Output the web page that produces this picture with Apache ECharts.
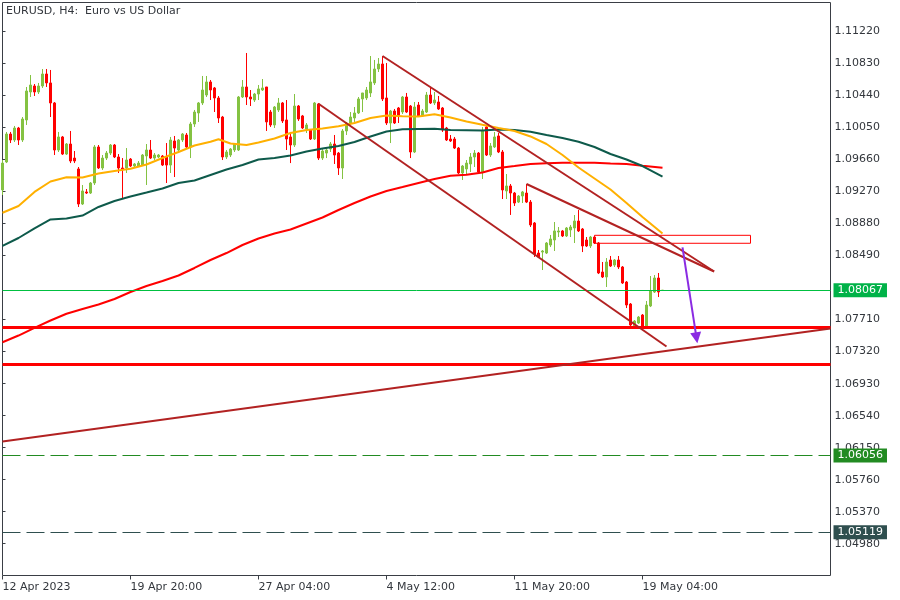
<!DOCTYPE html>
<html><head><meta charset="utf-8">
<script src="https://cdn.jsdelivr.net/npm/echarts@6/dist/echarts.min.js"></script>
<style>html,body{margin:0;padding:0;background:#fff}#chart{width:900px;height:600px}</style>
</head><body><div id="chart"></div>
<script>
const chartTitle = 'EURUSD, H4:  Euro vs US Dollar';
const xTickIndex = [0, 32, 64, 96, 128, 160];
const xTickLabels = ['12 Apr 2023', '19 Apr 20:00', '27 Apr 04:00', '4 May 12:00', '11 May 20:00', '19 May 04:00'];
const yTickValues = [1.11220, 1.10830, 1.10440, 1.10050, 1.09660, 1.09270, 1.08880, 1.08490, 1.07710, 1.07320, 1.06930, 1.06540, 1.06150, 1.05760, 1.05370, 1.04980];
const yMin = 1.045928, yMax = 1.11573, xMax = 207;

// H4 candles: [open, close, low, high]
const candles = [
[1.09289,1.09617,1.09228,1.09654],[1.09630,1.09971,1.09617,1.09996],[1.09971,1.09898,1.09861,1.09996],[1.09898,1.10044,1.09874,1.10069],
[1.10044,1.09898,1.09837,1.10057],[1.09898,1.10154,1.09874,1.10178],[1.10142,1.10495,1.10081,1.10544],[1.10483,1.10568,1.10422,1.10690],
[1.10556,1.10483,1.10434,1.10580],[1.10483,1.10556,1.10458,1.10593],[1.10556,1.10702,1.10532,1.10763],[1.10702,1.10593,1.10544,1.10763],
[1.10593,1.10349,1.10178,1.10751],[1.10349,1.09776,1.09715,1.10361],[1.09776,1.09935,1.09752,1.09996],[1.09935,1.09727,1.09715,1.09947],
[1.09727,1.09849,1.09715,1.09861],[1.09849,1.09642,1.09617,1.10008],[1.09678,1.09642,1.09617,1.09764],[1.09545,1.09118,1.09082,1.09569],
[1.09118,1.09277,1.09106,1.09350],[1.09265,1.09252,1.09240,1.09301],[1.09252,1.09374,1.09240,1.09386],[1.09374,1.09813,1.09350,1.09837],
[1.09813,1.09557,1.09545,1.09837],[1.09557,1.09678,1.09533,1.09715],[1.09678,1.09739,1.09654,1.09764],[1.09739,1.09837,1.09715,1.09849],
[1.09837,1.09691,1.09678,1.09849],[1.09691,1.09557,1.09496,1.09727],[1.09557,1.09545,1.09191,1.09678],[1.09557,1.09654,1.09496,1.09800],
[1.09666,1.09581,1.09569,1.09678],[1.09581,1.09606,1.09569,1.09617],[1.09581,1.09617,1.09569,1.09642],[1.09593,1.09715,1.09581,1.09727],
[1.09703,1.09776,1.09350,1.09849],[1.09776,1.09678,1.09666,1.09898],[1.09678,1.09715,1.09654,1.09739],[1.09691,1.09715,1.09678,1.09727],
[1.09703,1.09593,1.09581,1.09715],[1.09691,1.09593,1.09374,1.09861],[1.09593,1.09898,1.09496,1.09935],[1.09886,1.09800,1.09447,1.09947],
[1.09776,1.09898,1.09752,1.09910],[1.09898,1.09971,1.09874,1.09983],[1.09959,1.09813,1.09800,1.09983],[1.09813,1.10093,1.09678,1.10118],
[1.10093,1.10239,1.10057,1.10264],[1.10227,1.10349,1.10118,1.10361],[1.10349,1.10507,1.10324,1.10678],[1.10446,1.10605,1.10422,1.10678],
[1.10605,1.10507,1.10385,1.10629],[1.10532,1.10410,1.10239,1.10544],[1.10410,1.10166,1.10105,1.10434],[1.10178,1.09691,1.09654,1.10191],
[1.09691,1.09752,1.09666,1.09776],[1.09715,1.09788,1.09691,1.09800],[1.09776,1.09849,1.09752,1.09861],[1.09776,1.10422,1.09764,1.10434],
[1.10422,1.10544,1.10410,1.10629],[1.10544,1.10422,1.10324,1.10958],[1.10422,1.10398,1.10312,1.10507],[1.10385,1.10458,1.10361,1.10471],
[1.10458,1.10520,1.10385,1.10568],[1.10507,1.10532,1.10495,1.10641],[1.10544,1.10118,1.10008,1.10544],[1.10239,1.10081,1.10057,1.10264],
[1.10081,1.10300,1.10044,1.10312],[1.10264,1.10349,1.10239,1.10410],[1.10349,1.10130,1.10105,1.10361],[1.10142,1.09910,1.09776,1.10385],
[1.09935,1.09837,1.09617,1.09996],[1.09837,1.10312,1.09813,1.10458],[1.10312,1.10154,1.10130,1.10324],[1.10191,1.10044,1.10032,1.10203],
[1.10032,1.10081,1.09983,1.10105],[1.10020,1.09910,1.09898,1.10032],[1.09910,1.10349,1.09898,1.10361],[1.10337,1.09678,1.09654,1.10349],
[1.09678,1.09764,1.09654,1.09788],[1.09739,1.09776,1.09678,1.09800],[1.09788,1.09849,1.09752,1.09874],[1.09849,1.09715,1.09606,1.09959],
[1.09739,1.09557,1.09472,1.09752],[1.09557,1.10008,1.09423,1.10032],[1.10008,1.10105,1.09959,1.10118],[1.10105,1.10178,1.10081,1.10239],
[1.10166,1.10227,1.10118,1.10300],[1.10227,1.10398,1.10215,1.10422],[1.10398,1.10471,1.10239,1.10471],[1.10410,1.10507,1.10385,1.10544],
[1.10471,1.10605,1.10422,1.10921],[1.10593,1.10763,1.10568,1.10873],[1.10763,1.10824,1.10726,1.10897],[1.10824,1.10398,1.10373,1.10921],
[1.10410,1.10105,1.10081,1.10836],[1.10105,1.10251,1.09861,1.10264],[1.10251,1.10105,1.10093,1.10276],[1.10288,1.10191,1.10105,1.10300],
[1.10239,1.10422,1.10215,1.10434],[1.10422,1.10239,1.10227,1.10471],[1.10312,1.09752,1.09678,1.10324],[1.09752,1.10300,1.09739,1.10361],
[1.10324,1.10191,1.10178,1.10361],[1.10191,1.10251,1.10178,1.10276],[1.10239,1.10446,1.10227,1.10483],[1.10446,1.10349,1.10337,1.10532],
[1.10349,1.10385,1.10324,1.10483],[1.10361,1.10276,1.10264,1.10434],[1.10288,1.10020,1.09996,1.10300],[1.10044,1.09898,1.09886,1.10057],
[1.09910,1.09886,1.09874,1.09959],[1.09910,1.09800,1.09788,1.09935],[1.09800,1.09496,1.09484,1.09813],[1.09496,1.09581,1.09411,1.09593],
[1.09545,1.09617,1.09472,1.09654],[1.09606,1.09691,1.09508,1.09739],[1.09691,1.09739,1.09569,1.09776],[1.09739,1.09508,1.09496,1.09752],
[1.09508,1.10008,1.09423,1.10057],[1.10057,1.09715,1.09703,1.10069],[1.09715,1.09825,1.09691,1.09861],[1.09813,1.09935,1.09800,1.09996],
[1.09947,1.09752,1.09739,1.09983],[1.09752,1.09289,1.09179,1.09776],[1.09277,1.09338,1.09179,1.09484],[1.09338,1.09252,1.08985,1.09362],
[1.09252,1.09130,1.09094,1.09265],[1.09142,1.09216,1.09130,1.09228],[1.09216,1.09265,1.09130,1.09277],[1.09252,1.09142,1.09130,1.09362],
[1.09142,1.08863,1.08838,1.09167],[1.08887,1.08509,1.08473,1.08899],[1.08521,1.08473,1.08460,1.08558],[1.08533,1.08546,1.08314,1.08558],
[1.08521,1.08643,1.08509,1.08655],[1.08619,1.08692,1.08594,1.08741],[1.08680,1.08790,1.08546,1.08899],[1.08777,1.08790,1.08716,1.08838],
[1.08790,1.08729,1.08716,1.08802],[1.08729,1.08826,1.08716,1.08838],[1.08802,1.08838,1.08716,1.08863],[1.08826,1.08911,1.08643,1.08984],
[1.08911,1.08790,1.08777,1.09045],[1.08814,1.08607,1.08533,1.08826],[1.08680,1.08607,1.08594,1.08716],[1.08607,1.08716,1.08582,1.08729],
[1.08716,1.08643,1.08631,1.08729],[1.08643,1.08278,1.08265,1.08655],[1.08290,1.08229,1.08217,1.08412],[1.08229,1.08412,1.08107,1.08460],
[1.08436,1.08363,1.08351,1.08485],[1.08375,1.08436,1.08351,1.08448],[1.08436,1.08351,1.08326,1.08485],[1.08351,1.08156,1.08144,1.08363],
[1.08168,1.07888,1.07851,1.08180],[1.07900,1.07644,1.07620,1.07912],[1.07632,1.07693,1.07620,1.07705],[1.07668,1.07741,1.07656,1.07754],
[1.07766,1.07632,1.07620,1.07778],[1.07620,1.07888,1.07607,1.07937],[1.07876,1.08059,1.07863,1.08241],[1.08046,1.08217,1.08034,1.08253],
[1.08217,1.08046,1.07985,1.08278],[1.08067,1.08067,1.08062,1.08070]
];

// moving averages: [bar index, value]
const maFast = [[0,1.09012],[4,1.09094],[8,1.09265],[12,1.09392],[16,1.09444],[20,1.09441],[24,1.09490],[28,1.09520],[32,1.09548],[36,1.09600],[40,1.09679],[44,1.09752],[48,1.09831],[52,1.09876],[54,1.09907],[57,1.09855],[61,1.09837],[64,1.09868],[68,1.09916],[72,1.09983],[76,1.10020],[80,1.10038],[84,1.10065],[88,1.10105],[92,1.10166],[96,1.10196],[100,1.10188],[104,1.10184],[108,1.10212],[112,1.10172],[116,1.10123],[120,1.10083],[124,1.10044],[128,1.10008],[132,1.09941],[136,1.09849],[140,1.09715],[144,1.09563],[148,1.09429],[152,1.09295],[156,1.09131],[160,1.08960],[165,1.08759]];
const maMid = [[0,1.08607],[4,1.08704],[8,1.08822],[12,1.08930],[16,1.08942],[20,1.08978],[24,1.09082],[28,1.09155],[32,1.09210],[36,1.09258],[40,1.09307],[44,1.09374],[48,1.09405],[52,1.09472],[56,1.09539],[60,1.09593],[64,1.09660],[68,1.09679],[72,1.09709],[76,1.09758],[80,1.09794],[84,1.09825],[88,1.09874],[92,1.09941],[96,1.10002],[100,1.10028],[108,1.10036],[112,1.10020],[120,1.10014],[124,1.10026],[128,1.10020],[132,1.09998],[136,1.09959],[140,1.09922],[144,1.09876],[148,1.09813],[152,1.09727],[156,1.09660],[160,1.09581],[165,1.09451]];
const maSlow = [[0,1.07434],[4,1.07516],[8,1.07610],[12,1.07699],[16,1.07781],[20,1.07839],[24,1.07894],[28,1.07961],[32,1.08046],[36,1.08119],[40,1.08180],[44,1.08247],[48,1.08339],[52,1.08436],[56,1.08521],[60,1.08619],[64,1.08698],[68,1.08759],[72,1.08808],[76,1.08881],[80,1.08954],[84,1.09045],[88,1.09131],[92,1.09210],[96,1.09277],[100,1.09325],[104,1.09374],[108,1.09423],[112,1.09462],[116,1.09474],[120,1.09502],[124,1.09557],[128,1.09581],[132,1.09606],[136,1.09614],[140,1.09621],[148,1.09621],[152,1.09612],[156,1.09606],[160,1.09585],[165,1.09561]];

// drawn objects
const trendLines = [
  [[0, 1.06225], [207, 1.07602]],
  [[95, 1.10921], [177.9, 1.08296]],
  [[79, 1.10340], [166, 1.07382]],
  [[131, 1.09362], [177.9, 1.08296]]
];
const supplyZone = [[148, 1.08737], [187, 1.08640]];
const arrowPath = [[170, 1.08591], [173.5, 1.07488]];
const redLevels = [1.07616, 1.07167];
const bidLevel = 1.08067;
const dashedLevels = [1.06056, 1.05119];

const FONT = 'DejaVu Sans';
const TXT = '#33373d';
const UP = '#84C242', DOWN = '#FF0000';
const dashedColors = ['#228B22', '#2F4F4F'];

const chart = echarts.init(document.getElementById('chart'), null, {renderer: 'canvas'});

const priceLabel = (bg) => ({
  show: true, position: 'end', distance: 3, formatter: p => Number(p.value).toFixed(5),
  color: '#fff', backgroundColor: bg, padding: [1, 4, 1, 4], lineHeight: 12,
  fontSize: 11, fontFamily: FONT
});

const levelLines = [];
redLevels.forEach(v => levelLines.push({yAxis: v, lineStyle: {color: '#FF0000', width: 3, type: 'solid'}, label: {show: false}}));
levelLines.push({yAxis: bidLevel, lineStyle: {color: '#00C040', width: 1, type: 'solid'}, label: priceLabel('#00B248')});
dashedLevels.forEach((v, i) => levelLines.push({yAxis: v, lineStyle: {color: dashedColors[i], width: 1, type: [18, 6]}, label: priceLabel(dashedColors[i])}));

const option = {
  animation: false,
  backgroundColor: '#fff',
  title: {text: chartTitle, left: 6, top: 6, padding: 0,
    textStyle: {fontSize: 11, fontWeight: 'normal', color: TXT, fontFamily: FONT}},
  grid: {left: 2.5, top: 2.5, width: 828, height: 573, show: true, borderColor: '#3a3e45', borderWidth: 1,
    backgroundColor: 'transparent', containLabel: false, outerBoundsMode: 'none'},
  xAxis: {
    type: 'value', min: 0, max: xMax, splitLine: {show: false},
    axisLine: {show: false, onZero: false},
    axisTick: {show: true, customValues: xTickIndex, length: 4, lineStyle: {color: '#3a3e45'}},
    axisLabel: {customValues: xTickIndex, formatter: v => xTickLabels[xTickIndex.indexOf(v)],
      align: 'left', margin: 6, fontSize: 11, color: TXT, fontFamily: FONT}
  },
  yAxis: {
    type: 'value', position: 'right', min: yMin, max: yMax, splitLine: {show: false},
    axisLine: {show: false},
    axisTick: {show: true, customValues: yTickValues, length: 3, lineStyle: {color: '#3a3e45'}},
    axisLabel: {customValues: yTickValues, formatter: v => v.toFixed(5), margin: 4,
      fontSize: 11, color: TXT, fontFamily: FONT}
  },
  series: [
    {
      type: 'candlestick', z: 2, barWidth: 2, silent: true,
      data: candles.map((c, i) => [i, c[0], c[1], c[2], c[3]]),
      encode: {x: 0, y: [1, 2, 3, 4]},
      itemStyle: {color: UP, color0: DOWN, borderColor: UP, borderColor0: DOWN, borderColorDoji: UP, borderWidth: 1}
    },
    {type: 'line', z: 3, data: maSlow, showSymbol: false, symbol: 'none', silent: true, lineStyle: {color: '#FF0000', width: 2}},
    {type: 'line', z: 3, data: maMid, showSymbol: false, symbol: 'none', silent: true, lineStyle: {color: '#0E5A4B', width: 2}},
    {type: 'line', z: 3, data: maFast, showSymbol: false, symbol: 'none', silent: true, lineStyle: {color: '#FFB000', width: 2}},
    {
      type: 'line', z: 4, data: [], silent: true,
      markLine: {silent: true, precision: 5, symbol: ['none', 'none'], animation: false, emphasis: {disabled: true},
        data: levelLines},
      markArea: {silent: true, emphasis: {disabled: true},
        itemStyle: {color: 'rgba(0,0,0,0)', borderColor: '#FF0000', borderWidth: 1},
        data: [[{coord: supplyZone[0]}, {coord: supplyZone[1]}]]}
    },
    {
      type: 'line', z: 5, data: [], silent: true,
      markLine: {silent: true, precision: 5, symbol: ['none', 'none'], animation: false, emphasis: {disabled: true},
        label: {show: false}, lineStyle: {color: '#B22222', width: 2, type: 'solid'},
        data: trendLines.map(t => [{coord: t[0]}, {coord: t[1]}])}
    },
    {
      type: 'line', z: 6, data: [], silent: true,
      markLine: {silent: true, precision: 5, symbol: ['none', 'triangle'], symbolSize: 11, animation: false, emphasis: {disabled: true},
        label: {show: false}, lineStyle: {color: '#8A2BE2', width: 2, type: 'solid'},
        itemStyle: {color: '#8A2BE2'},
        data: [[{coord: arrowPath[0]}, {coord: arrowPath[1]}]]}
    }
  ]
};
chart.setOption(option);
</script>
</body></html>
